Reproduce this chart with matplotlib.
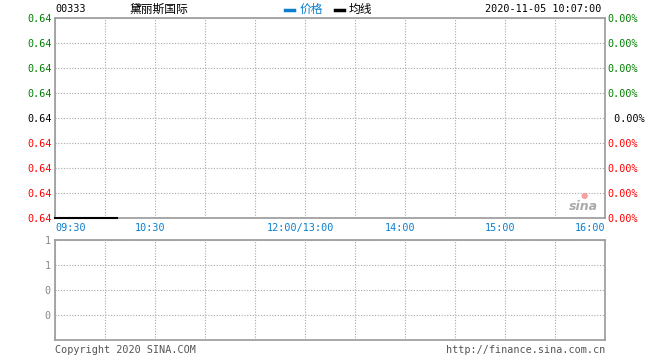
import matplotlib
matplotlib.use("Agg")
import matplotlib.pyplot as plt
import numpy as np

plt.rcParams["font.family"] = ["DejaVu Sans Mono", "Noto Sans CJK SC"]

code = "00333"
name = "黛丽斯国际"
stamp = "2020-11-05 10:07:00"

# minute data so far (09:30 -> 10:07)
times = ["09:30", "10:07"]
price = [0.64, 0.64]
avg_price = [0.64, 0.64]
volume = [0, 0]

price_ticks = [0.6400, 0.6401, 0.6402, 0.6403, 0.6404, 0.6405, 0.6406, 0.6407, 0.6408]
pct_labels = ["0.00%"] * 9
vol_ticks = [0.25, 0.5, 0.75, 1.0]
time_labels = ["09:30", "10:30", "12:00/13:00", "14:00", "15:00", "16:00"]
time_pos = [0, 60, 150, 210, 270, 330]

GREEN = "#008000"
RED = "#ff0000"
BLUE = "#0a7fd0"
GRID = "#a8a8a8"
EDGE = "#999999"
W, H = 660, 360


def to_min(t):
    h, m = map(int, t.split(":"))
    mins = (h - 9) * 60 + m - 30
    if mins > 150:
        mins -= 60
    return mins


def px_axes(fig, x0, y0, x1, y1):
    return fig.add_axes([x0 / W, 1 - y1 / H, (x1 - x0) / W, (y1 - y0) / H])


fig = plt.figure(figsize=(6.6, 3.6), dpi=100)

ax = px_axes(fig, 55, 18, 605, 218)
vx = px_axes(fig, 55, 240, 605, 340)

xs = [to_min(t) for t in times]
for a in (ax, vx):
    a.set_xlim(0, 330)
    a.set_xticks(np.arange(0, 331, 30))
    a.grid(True, color=GRID, linestyle=(0, (1, 1.5)), linewidth=0.8)
    for s in a.spines.values():
        s.set_color(EDGE)
        s.set_linewidth(1.2)
    a.tick_params(length=0)

ax.set_ylim(price_ticks[0], price_ticks[-1])
ax.set_yticks(price_ticks)
ax.set_yticklabels([f"{v:.2f}" for v in price_ticks], fontsize=7.3)
ax.tick_params(axis="y", pad=2)
ax.set_xticklabels([])
for i, lab in enumerate(ax.get_yticklabels()):
    lab.set_color(RED if i < 4 else ("black" if i == 4 else GREEN))

ax.plot(xs, price, color=BLUE, linewidth=1.2, clip_on=False, zorder=4)
ax.plot(xs, avg_price, color="black", linewidth=1.5, clip_on=False, zorder=5)

rx = ax.twinx()
rx.set_ylim(price_ticks[0], price_ticks[-1])
rx.set_yticks(price_ticks)
rx.set_yticklabels([(" " + p if i == 4 else p) for i, p in enumerate(pct_labels)],
                   fontsize=7.3)
rx.tick_params(length=0, pad=2)
for s in rx.spines.values():
    s.set_visible(False)
for i, lab in enumerate(rx.get_yticklabels()):
    lab.set_color(RED if i < 4 else ("black" if i == 4 else GREEN))

for t, p in zip(time_labels, time_pos):
    ha = "left" if p == 0 else ("right" if p == 330 else "center")
    x = p if p in (0, 330) else p - 3
    ax.text(x, -0.025, t, transform=ax.get_xaxis_transform(), ha=ha, va="top",
            color=BLUE, fontsize=7.3)

vx.bar(xs, volume, width=1, color=BLUE)
vx.set_ylim(0, 1)
vx.set_yticks(vol_ticks)
vx.set_yticklabels([f"{v:.0f}" for v in vol_ticks], fontsize=7.3, color="#888888")
vx.tick_params(axis="y", pad=3)
vx.set_xticklabels([])

# header
fig.text(55 / W, 1 - 9 / H, code, fontsize=7.3, va="center")
fig.text(130 / W, 1 - 9 / H, name, fontsize=8.5, va="center",
         family=["Noto Sans CJK SC", "DejaVu Sans"])
fig.lines.append(plt.Line2D([285 / W, 294 / W], [1 - 10 / H] * 2, color=BLUE,
                            linewidth=2.5, transform=fig.transFigure))
fig.text(300 / W, 1 - 9 / H, "价格", fontsize=8.5, va="center", color=BLUE,
         family=["Noto Sans CJK SC", "DejaVu Sans"])
fig.lines.append(plt.Line2D([335 / W, 344 / W], [1 - 10 / H] * 2, color="black",
                            linewidth=2.5, transform=fig.transFigure))
fig.text(349 / W, 1 - 9 / H, "均线", fontsize=8.5, va="center",
         family=["Noto Sans CJK SC", "DejaVu Sans"])
fig.text(601 / W, 1 - 9 / H, stamp, fontsize=7.3, va="center", ha="right")

# watermark
fig.text(583 / W, 1 - 206 / H, "sina", fontsize=9, color="#aaaaaa", style="italic",
         weight="bold", ha="center", va="center", family="DejaVu Sans")
fig.text(584 / W, 1 - 196 / H, "●", fontsize=6, color="#f4a0a0", ha="center",
         va="center", family="DejaVu Sans")

# footer
fig.text(55 / W, 1 - 350 / H, "Copyright 2020 SINA.COM", fontsize=7.3,
         color="#555555", va="center")
fig.text(605 / W, 1 - 350 / H, "http://finance.sina.com.cn", fontsize=7.3,
         color="#555555", va="center", ha="right")

fig.savefig("out.png", dpi=100)
